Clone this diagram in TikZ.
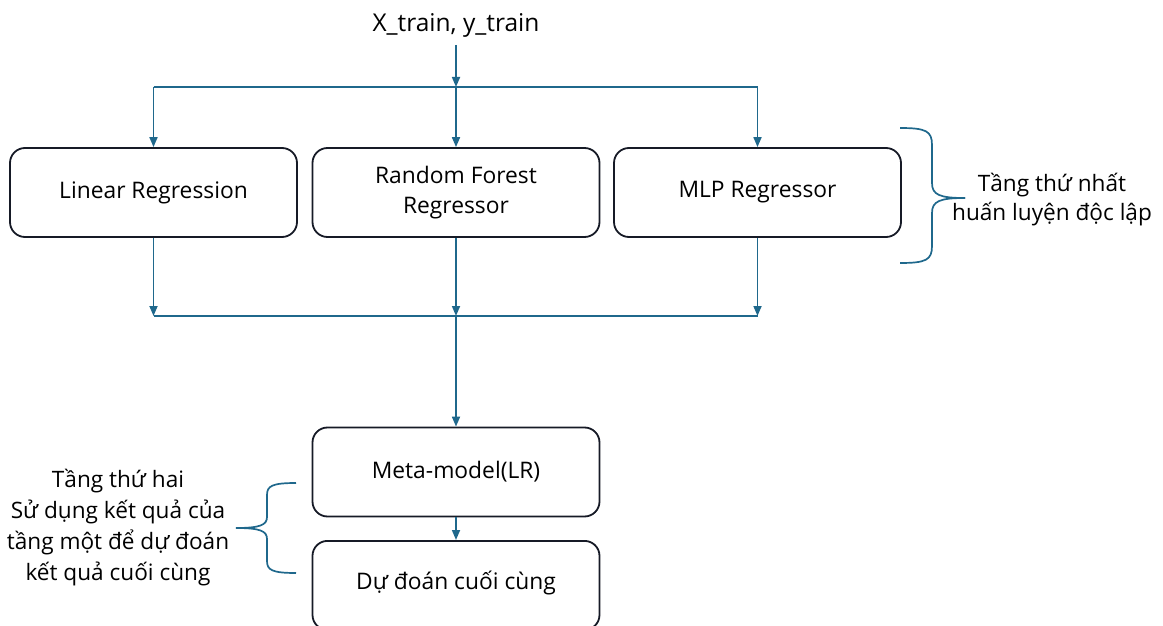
\documentclass[tikz,border=0pt]{standalone}
\usepackage{fontspec}
\setmainfont{Open Sans}
\usetikzlibrary{arrows.meta}
\definecolor{linec}{RGB}{31,104,140}
\definecolor{boxc}{RGB}{22,26,38}
\tikzset{
  mbox/.style={draw=boxc, line width=1.8pt, rounded corners=15pt, minimum width=287pt, minimum height=89pt, align=center, font=\fontsize{22.8}{30}\selectfont, inner sep=0pt},
  conn/.style={draw=linec, line width=1.7pt},
  arr/.style={conn, -{Triangle[length=10pt,width=8pt]}},
  lbl/.style={align=center, font=\fontsize{22.6}{31}\selectfont, inner sep=0pt},
  brace/.style={draw=linec, line width=1.7pt}
}
\begin{document}
\begin{tikzpicture}[x=1pt,y=-1pt]
\useasboundingbox (0,0) rectangle (1163,626);
\node[lbl, font=\fontsize{24.5}{28}\selectfont] (in) at (456,25) {X\_train, y\_train};
\node[mbox] (lr) at (153.5,192.5) {Linear Regression};
\node[mbox] (rf) at (456,192.5) {Random Forest\\Regressor};
\node[mbox] (mlp) at (757.5,192.5) {MLP Regressor};
\node[mbox] (meta) at (456,472) {Meta-model(LR)};
\begin{scope}
\clip (0,0) rectangle (1163,626);
\node[mbox, anchor=north] (pred) at (456,540) {};
\end{scope}
\node[lbl, font=\fontsize{22.8}{30}\selectfont] (predt) at (456,583) {Dự đoán cuối cùng};
\coordinate (split) at (456,87);
\coordinate (sl) at (153.5,87);
\coordinate (sr) at (757.5,87);
\coordinate (join) at (456,316);
\coordinate (jl) at (153.5,316);
\coordinate (jr) at (757.5,316);
\draw[arr] (456,45) -- (split);
\draw[conn] (sl) -- (sr);
\draw[arr] (sl) -- (lr.north);
\draw[arr] (split) -- (rf.north);
\draw[arr] (sr) -- (mlp.north);
\draw[arr] (lr.south) -- (jl);
\draw[arr] (rf.south) -- (join);
\draw[arr] (mlp.south) -- (jr);
\draw[conn] (jl) -- (jr);
\draw[arr] (join) -- (meta.north);
\draw[arr] (meta.south) -- (pred.north);
% right brace
\draw[brace] (900,128) .. controls (926,128) and (932,131) .. (932,145) -- (932,183) .. controls (932,195) and (940,198) .. (965,198);
\draw[brace] (900,263) .. controls (926,263) and (932,260) .. (932,246) -- (932,213) .. controls (932,201) and (940,198) .. (965,198);
\node[lbl, font=\fontsize{22.6}{29}\selectfont] (t1) at (1052,200) {Tầng thứ nhất\\huấn luyện độc lập};
% left brace
\draw[brace] (296,483) .. controls (272,483) and (267,486) .. (267,495) -- (267,517) .. controls (267,525) and (260,528) .. (236,528);
\draw[brace] (296,573) .. controls (272,573) and (267,570) .. (267,561) -- (267,539) .. controls (267,531) and (260,528) .. (236,528);
\node[lbl] (t2) at (118,528) {Tầng thứ hai\\Sử dụng kết quả của\\tầng một để dự đoán\\kết quả cuối cùng};
\end{tikzpicture}
\end{document}
